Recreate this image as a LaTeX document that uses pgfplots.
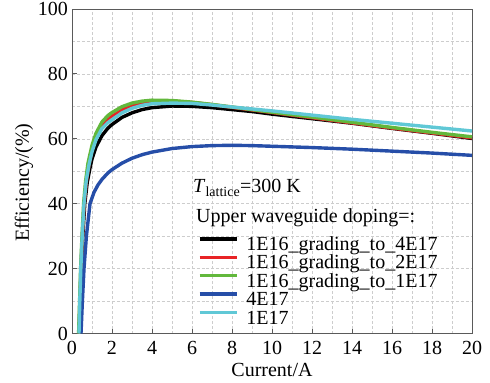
\documentclass[border=0pt]{standalone}
\usepackage{fontspec}
\setmainfont{Liberation Serif}
\usepackage{pgfplots}
\pgfplotsset{compat=1.18}

\definecolor{cRed}{RGB}{232,35,38}
\definecolor{cGreen}{RGB}{98,184,60}
\definecolor{cBlue}{RGB}{38,78,168}
\definecolor{cCyan}{RGB}{96,200,214}
\definecolor{cGrid}{RGB}{205,205,205}
\definecolor{cAxis}{RGB}{90,90,90}

\begin{document}
\fontsize{20bp}{24bp}\selectfont
\begin{tikzpicture}
\useasboundingbox (-72bp,-49.5bp) rectangle (418bp,333.5bp);
\begin{axis}[
  scale only axis, width=400bp, height=324.5bp,
  at={(0,0)}, anchor=south west,
  xmin=0, xmax=20, ymin=0, ymax=100,
  xtick={0,2,...,20}, ytick={0,20,...,100},
  xticklabels={0,2,4,6,8,10,12,14,16,18,20},
  yticklabels={0,20,40,60,80,100},
  minor x tick num=1, minor y tick num=1,
  grid=both,
  major grid style={cGrid, densely dashed, line width=0.5bp},
  minor grid style={cGrid, densely dashed, line width=0.5bp},
  tick pos=left, tick align=inside,
  major tick length=5bp, minor tick length=0bp,
  axis line style={cAxis, line width=0.9bp},
  tick style={cAxis, line width=0.8bp},
  font=\fontsize{20bp}{24bp}\selectfont,
  xticklabel style={anchor=base, yshift=-20.5bp},
  yticklabel style={anchor=east, inner sep=0pt, xshift=-4bp},
  xlabel={Current/A},
  ylabel={Efficiency/(\%)},
  xlabel style={at={(rel axis cs:0.5,0)}, anchor=base, yshift=-43.2bp, inner sep=0pt},
  ylabel style={at={(rel axis cs:0,0.465)}, anchor=center, yshift=48bp, inner sep=0pt},
  legend cell align=left,
  legend style={draw=none, fill=none, at={(axis cs:6.3,29.7)}, anchor=north west,
    inner sep=0pt, outer sep=0pt, row sep=0pt, column sep=8bp,
    font=\fontsize{20bp}{24bp}\selectfont,
    nodes={inner sep=0pt, text height=13.5bp, text depth=4.85bp}},
  legend image code/.code={\draw[#1, line width=3.4bp] (0bp,7.2bp) -- (37bp,7.2bp);},
  every axis plot/.append style={line width=3.4bp, line join=round},
]

% 1E16 grading to 4E17
\addplot[black] coordinates {
(0.36,0)(0.41,10)(0.46,20)(0.54,30)(0.64,40)(0.76,46.5)(0.9,51)(1.0,53.8)
(1.2,57.5)(1.5,61.0)(1.8,63.3)(2.0,64.4)(2.5,66.6)(3.0,68.0)(3.5,69.0)(4.0,69.6)
(5.0,70.1)(6.0,70.0)(7.0,69.6)(8.0,69.0)(9,68.4)(10,67.6)(12,66.2)(14,64.8)
(16,63.2)(18,61.7)(20,60.1)};
\addlegendentry{1E16\_grading\_to\_4E17}

% 1E16 grading to 2E17
\addplot[cRed] coordinates {
(0.35,0)(0.4,10)(0.45,20)(0.52,30)(0.61,40)(0.72,47)(0.85,52)(1.0,56.5)
(1.2,60.2)(1.5,63.8)(1.8,65.9)(2.0,66.9)(2.5,68.9)(3.0,70.2)(3.5,70.9)(4.0,71.4)
(5.0,71.6)(6.0,71.2)(7.0,70.5)(8.0,69.7)(9,68.9)(10,68.1)(12,66.5)(14,64.9)
(16,63.3)(18,61.8)(20,60.3)};
\addlegendentry{1E16\_grading\_to\_2E17}

% 1E16 grading to 1E17
\addplot[cGreen] coordinates {
(0.33,0)(0.38,10)(0.43,20)(0.5,30)(0.58,40)(0.68,47)(0.8,52.5)(1.0,58)
(1.2,61.7)(1.5,65.2)(1.8,67.2)(2.0,68.1)(2.5,69.9)(3.0,71.0)(3.5,71.6)(4.0,71.9)
(5.0,71.8)(6.0,71.3)(7.0,70.6)(8.0,69.8)(9,69.0)(10,68.2)(12,66.7)(14,65.1)
(16,63.5)(18,62.0)(20,60.6)};
\addlegendentry{1E16\_grading\_to\_1E17}

% uniform 4E17
\addplot[cBlue] coordinates {
(0.45,0)(0.52,10)(0.6,20)(0.72,30)(0.9,40)(1.1,43.5)(1.3,45.8)(1.5,47.5)
(1.8,49.5)(2.0,50.5)(2.5,52.5)(3.0,54.0)(3.5,55.1)(4.0,55.9)(5.0,57.0)(6.0,57.6)
(7.0,57.9)(8.0,58.0)(9,57.9)(10,57.7)(12,57.3)(14,56.8)(16,56.2)(18,55.6)(20,54.9)};
\addlegendentry{4E17}

% uniform 1E17
\addplot[cCyan] coordinates {
(0.35,0)(0.39,10)(0.44,20)(0.51,30)(0.6,40)(0.71,47)(0.85,52)(1.0,56)
(1.2,59.7)(1.5,63.2)(1.8,65.0)(2.0,65.9)(2.5,68.0)(3.0,69.4)(3.5,70.3)(4.0,70.8)
(5.0,71.0)(6.0,70.9)(7.0,70.4)(8.0,69.8)(9,69.2)(10,68.6)(12,67.3)(14,66.0)
(16,64.8)(18,63.6)(20,62.4)};
\addlegendentry{1E17}

\node[anchor=base west, inner sep=0pt] at (axis cs:6.05,43.3)
  {\textit{T}\textsubscript{lattice}=300 K};
\node[anchor=base west, inner sep=0pt] at (axis cs:6.2,34.1)
  {Upper waveguide doping=:};
\end{axis}
\end{tikzpicture}
\end{document}
